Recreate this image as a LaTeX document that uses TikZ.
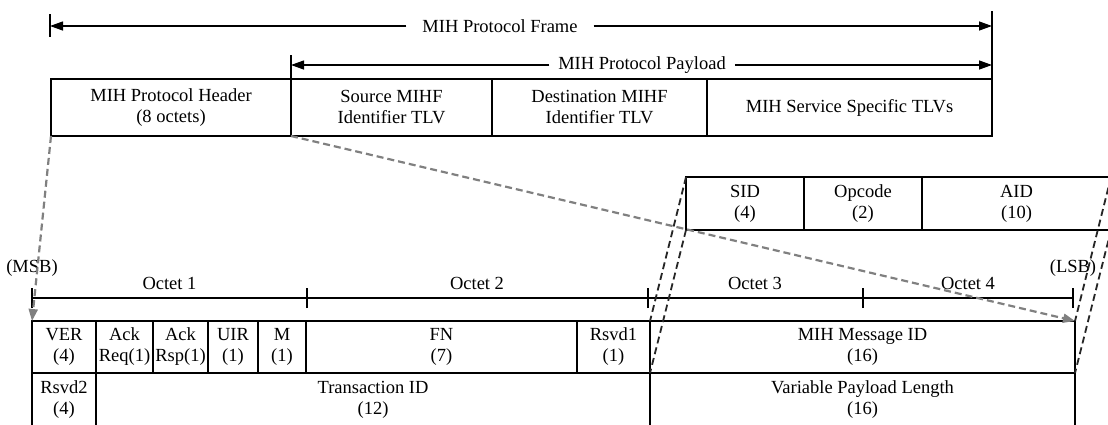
\documentclass[tikz,border=0pt]{standalone}
\usepackage{fontspec}
\setmainfont{Liberation Serif}
\usetikzlibrary{arrows.meta}
\begin{document}
\begin{tikzpicture}[x=1pt,y=-1pt,
  every node/.style={font=\fontsize{18.5}{21}\selectfont},
  cell/.style={draw, line width=1.1pt, inner sep=0pt, outer sep=0pt, align=center, anchor=north west},
  lbl/.style={inner sep=0pt, inner xsep=12pt, outer sep=0pt},
  dimarrow/.style={line width=1.3pt, -{Triangle[length=13pt,width=9pt]}},
  tickline/.style={line width=1.1pt},
  gdash/.style={draw=black!50, line width=2.2pt, dash pattern=on 7pt off 4pt, -{Triangle[length=12pt,width=9pt]}},
  bdash/.style={draw=black!85, line width=1.8pt, dash pattern=on 7pt off 4pt}
]
\useasboundingbox (0,0) rectangle (1108,424);

% ---- top frame ----
\node[cell, minimum width=240, minimum height=57] (hdr) at (51,79) {MIH Protocol Header\\(8 octets)};
\node[cell, minimum width=201, minimum height=57] (src) at (291,79) {Source MIHF\\Identifier TLV};
\node[cell, minimum width=215, minimum height=57] (dst) at (492,79) {Destination MIHF\\Identifier TLV};
\node[cell, minimum width=285, minimum height=57] (svc) at (707,79) {MIH Service Specific TLVs};

\coordinate (fL) at (50,26);
\coordinate (fR) at (992,26);
\coordinate (pL) at (291,65);
\coordinate (pR) at (992,65);
\node[lbl, inner xsep=16pt] (frame) at (500,26) {MIH Protocol Frame};
\node[lbl, inner xsep=9pt] (payload) at (642,65) {MIH Protocol Payload};
\draw[dimarrow] (frame.west) -- (fL);
\draw[dimarrow] (frame.east) -- (fR);
\draw[dimarrow] (payload.west) -- (pL);
\draw[dimarrow] (payload.east) -- (pR);
\draw[tickline] (50,14) -- (50,37);
\draw[tickline] (291,55) -- (291,79);
\draw[tickline] (992,11) -- (992,79);

% ---- SID / Opcode / AID ----
\node[cell, minimum width=118, minimum height=53] (sid) at (686,177) {SID\\(4)};
\node[cell, minimum width=118, minimum height=53] (opc) at (804,177) {Opcode\\(2)};
\node[cell, minimum width=189, minimum height=53] (aid) at (922,177) {AID\\(10)};

% ---- octet scale ----
\coordinate (o0) at (32,298);
\coordinate (o1) at (307,298);
\coordinate (o2) at (648,298);
\coordinate (o3) at (863,298);
\coordinate (o4) at (1073,298);
\draw[tickline] (o0) -- (o4);
\foreach \c in {o0,o1,o2,o3,o4}{
  \draw[tickline] ([yshift=-10pt]\c) -- ([yshift=10pt]\c);
}
\node (oct1) at (169.5,283) {Octet 1};
\node (oct2) at (477,283) {Octet 2};
\node (oct3) at (755,283) {Octet 3};
\node (oct4) at (968,283) {Octet 4};
\node[inner sep=0pt] (msb) at (32,268) {(MSB)};
\node[inner sep=0pt] (lsb) at (1073,268) {(LSB)};

% ---- header fields row 1 ----
\node[cell, minimum width=64, minimum height=52] (ver) at (32,321) {VER\\(4)};
\node[cell, minimum width=57, minimum height=52] (ackreq) at (96,321) {Ack\\Req(1)};
\node[cell, minimum width=55, minimum height=52] (ackrsp) at (153,321) {Ack\\Rsp(1)};
\node[cell, minimum width=50, minimum height=52] (uir) at (208,321) {UIR\\(1)};
\node[cell, minimum width=48, minimum height=52] (m) at (258,321) {M\\(1)};
\node[cell, minimum width=271, minimum height=52] (fn) at (306,321) {FN\\(7)};
\node[cell, minimum width=73, minimum height=52] (rsvd1) at (577,321) {Rsvd1\\(1)};
\node[cell, minimum width=425, minimum height=52] (msgid) at (650,321) {MIH Message ID\\(16)};

% ---- header fields row 2 (cut off by the lower edge) ----
\node[cell, minimum width=64, minimum height=54] (rsvd2) at (32,373) {Rsvd2\\(4)};
\node[cell, minimum width=554, minimum height=54] (tid) at (96,373) {Transaction ID\\(12)};
\node[cell, minimum width=425, minimum height=54] (vpl) at (650,373) {Variable Payload Length\\(16)};

% ---- zoom connectors ----
\draw[gdash] (hdr.south west) -- (ver.north west);
\draw[gdash] (hdr.south east) -- (msgid.north east);
\draw[bdash] (sid.north west) -- (msgid.north west);
\draw[bdash] (sid.south west) -- (msgid.south west);
\draw[bdash] (aid.north east) -- (msgid.north east);
\draw[bdash] (aid.south east) -- (msgid.south east);
\end{tikzpicture}
\end{document}
